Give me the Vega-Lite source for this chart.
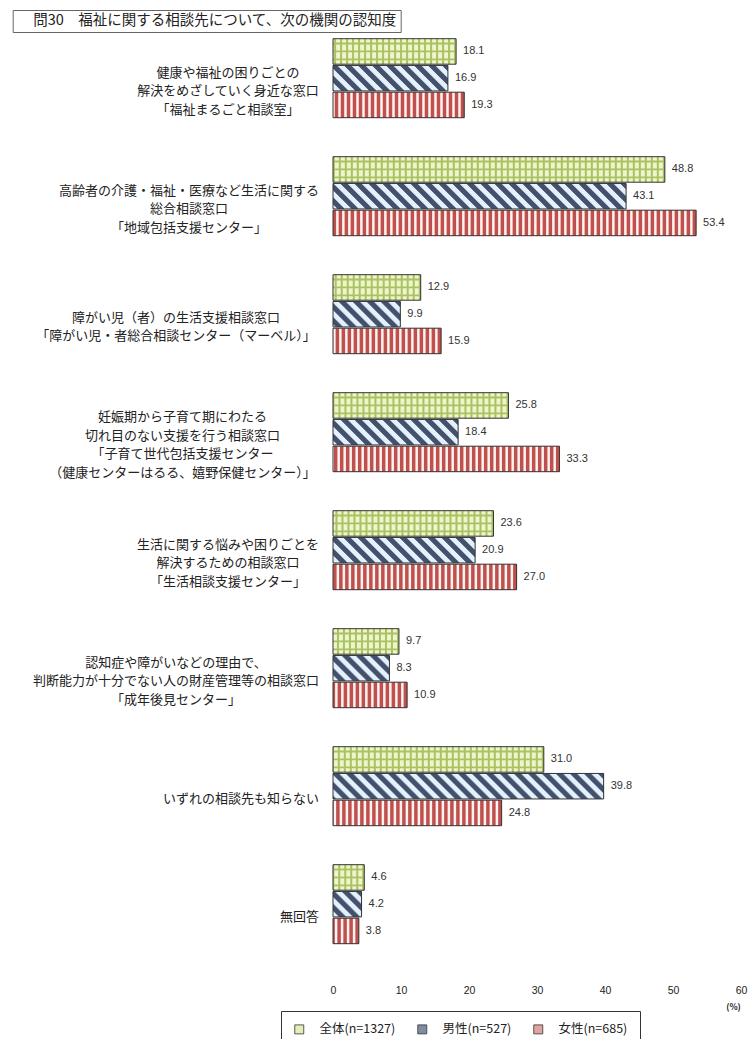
{
  "$schema": "https://vega.github.io/schema/vega-lite/v6.json",
  "width": 408,
  "height": 944,
  "autosize": {"type": "none"},
  "padding": {"left": 333, "top": 19.2, "right": 7, "bottom": 75.8},
  "background": "white",
  "config": {"view": {"stroke": null}, "font": "Noto Sans CJK JP"},
  "data": {"values": [
    {"c": "健康や福祉の困りごとの\n解決をめざしていく身近な窓口\n「福祉まるごと相談室」", "s": "全体(n=1327)", "v": 18.1},
    {"c": "健康や福祉の困りごとの\n解決をめざしていく身近な窓口\n「福祉まるごと相談室」", "s": "男性(n=527)", "v": 16.9},
    {"c": "健康や福祉の困りごとの\n解決をめざしていく身近な窓口\n「福祉まるごと相談室」", "s": "女性(n=685)", "v": 19.3},
    {"c": "高齢者の介護・福祉・医療など生活に関する\n総合相談窓口\n「地域包括支援センター」", "s": "全体(n=1327)", "v": 48.8},
    {"c": "高齢者の介護・福祉・医療など生活に関する\n総合相談窓口\n「地域包括支援センター」", "s": "男性(n=527)", "v": 43.1},
    {"c": "高齢者の介護・福祉・医療など生活に関する\n総合相談窓口\n「地域包括支援センター」", "s": "女性(n=685)", "v": 53.4},
    {"c": "障がい児（者）の生活支援相談窓口\n「障がい児・者総合相談センター（マーベル）」", "s": "全体(n=1327)", "v": 12.9},
    {"c": "障がい児（者）の生活支援相談窓口\n「障がい児・者総合相談センター（マーベル）」", "s": "男性(n=527)", "v": 9.9},
    {"c": "障がい児（者）の生活支援相談窓口\n「障がい児・者総合相談センター（マーベル）」", "s": "女性(n=685)", "v": 15.9},
    {"c": "妊娠期から子育て期にわたる\n切れ目のない支援を行う相談窓口\n「子育て世代包括支援センター\n（健康センターはるる、嬉野保健センター）」", "s": "全体(n=1327)", "v": 25.8},
    {"c": "妊娠期から子育て期にわたる\n切れ目のない支援を行う相談窓口\n「子育て世代包括支援センター\n（健康センターはるる、嬉野保健センター）」", "s": "男性(n=527)", "v": 18.4},
    {"c": "妊娠期から子育て期にわたる\n切れ目のない支援を行う相談窓口\n「子育て世代包括支援センター\n（健康センターはるる、嬉野保健センター）」", "s": "女性(n=685)", "v": 33.3},
    {"c": "生活に関する悩みや困りごとを\n解決するための相談窓口\n「生活相談支援センター」", "s": "全体(n=1327)", "v": 23.6},
    {"c": "生活に関する悩みや困りごとを\n解決するための相談窓口\n「生活相談支援センター」", "s": "男性(n=527)", "v": 20.9},
    {"c": "生活に関する悩みや困りごとを\n解決するための相談窓口\n「生活相談支援センター」", "s": "女性(n=685)", "v": 27.0},
    {"c": "認知症や障がいなどの理由で、\n判断能力が十分でない人の財産管理等の相談窓口\n「成年後見センター」", "s": "全体(n=1327)", "v": 9.7},
    {"c": "認知症や障がいなどの理由で、\n判断能力が十分でない人の財産管理等の相談窓口\n「成年後見センター」", "s": "男性(n=527)", "v": 8.3},
    {"c": "認知症や障がいなどの理由で、\n判断能力が十分でない人の財産管理等の相談窓口\n「成年後見センター」", "s": "女性(n=685)", "v": 10.9},
    {"c": "いずれの相談先も知らない", "s": "全体(n=1327)", "v": 31.0},
    {"c": "いずれの相談先も知らない", "s": "男性(n=527)", "v": 39.8},
    {"c": "いずれの相談先も知らない", "s": "女性(n=685)", "v": 24.8},
    {"c": "無回答", "s": "全体(n=1327)", "v": 4.6},
    {"c": "無回答", "s": "男性(n=527)", "v": 4.2},
    {"c": "無回答", "s": "女性(n=685)", "v": 3.8}
  ]},
  "encoding": {
    "y": {
      "field": "c", "type": "nominal",
      "scale": {
        "domain": [
          "健康や福祉の困りごとの\n解決をめざしていく身近な窓口\n「福祉まるごと相談室」",
          "高齢者の介護・福祉・医療など生活に関する\n総合相談窓口\n「地域包括支援センター」",
          "障がい児（者）の生活支援相談窓口\n「障がい児・者総合相談センター（マーベル）」",
          "妊娠期から子育て期にわたる\n切れ目のない支援を行う相談窓口\n「子育て世代包括支援センター\n（健康センターはるる、嬉野保健センター）」",
          "生活に関する悩みや困りごとを\n解決するための相談窓口\n「生活相談支援センター」",
          "認知症や障がいなどの理由で、\n判断能力が十分でない人の財産管理等の相談窓口\n「成年後見センター」",
          "いずれの相談先も知らない",
          "無回答"
        ],
        "paddingInner": 0.3305, "paddingOuter": 0.16525
      },
      "axis": {
        "title": null, "domain": false, "ticks": false, "tickSize": 0,
        "labelAlign": "center", "labelBaseline": "middle",
        "labelFont": "Noto Sans CJK JP", "labelFontSize": 13, "labelColor": "#222",
        "labelLineHeight": 18.5, "labelLimit": 500, "labelOverlap": false,
        "labelExpr": "split(datum.value, '\\n')",
        "labelOffset": {"expr": "13 - 9.25*(length(split(datum.value,'\\n'))-1)"},
        "labelPadding": {"expr": "14.5 + 6.5*max(length(split(datum.value+'\\n\\n\\n','\\n')[0]),length(split(datum.value+'\\n\\n\\n','\\n')[1]),length(split(datum.value+'\\n\\n\\n','\\n')[2]),length(split(datum.value+'\\n\\n\\n','\\n')[3]))"}
      }
    }
  },
  "layer": [
    {
      "mark": {"type": "bar"},
      "encoding": {
        "x": {"field": "v", "type": "quantitative", "scale": {"domain": [0, 60]},
          "axis": {"title": "(%)", "domain": false, "ticks": false, "tickSize": 0, "grid": false,
            "values": [0, 10, 20, 30, 40, 50, 60], "labelPadding": 22.5, "labelFlush": false, "labelOverlap": false,
            "labelFont": "Liberation Sans", "labelFontSize": 10.5, "labelColor": "#222",
            "titleX": 400, "titleY": 43.5, "titleAlign": "center", "titleBaseline": "middle",
            "titleFont": "Noto Sans CJK JP", "titleFontSize": 8.5, "titleFontWeight": "bold", "titleColor": "#222"}},
        "yOffset": {"field": "s", "type": "nominal", "scale": {"domain": ["全体(n=1327)", "男性(n=527)", "女性(n=685)"], "paddingInner": 0.0467, "paddingOuter": 0}},
        "fill": {"field": "s", "type": "nominal",
          "scale": {"domain": ["全体(n=1327)", "男性(n=527)", "女性(n=685)"], "range": ["#e3eeb8", "#7f8ca3", "#e2a3a1"]},
          "legend": {"title": null, "orient": "none", "direction": "horizontal", "legendX": -52, "legendY": 991.8,
            "strokeColor": "#333", "padding": 12, "columnPadding": 20,
            "symbolType": "square", "symbolSize": 81, "symbolStrokeColor": "#333", "symbolStrokeWidth": 0.8,
            "labelOffset": 14, "labelFont": "Noto Sans CJK JP", "labelFontSize": 12.5, "labelColor": "#222"
          }
        }
      }
    },
    {"transform": [{"filter": "datum.s==='男性(n=527)'"}], "mark": {"type": "rule", "stroke": "#e4f1fc", "strokeWidth": 25.5}, "encoding": {"x": {"field": "v", "type": "quantitative"}, "x2": {"datum": 0}}},
    {"transform": [{"filter": "datum.s==='女性(n=685)'"}], "mark": {"type": "rule", "stroke": "#fdf3f1", "strokeWidth": 25.5, "yOffset": 26.75}, "encoding": {"x": {"field": "v", "type": "quantitative"}, "x2": {"datum": 0}}},
    {"transform": [{"filter": "datum.s==='全体(n=1327)'"}], "mark": {"type": "rule", "stroke": "#eef5cb", "strokeWidth": 25.5, "yOffset": -26.75}, "encoding": {"x": {"field": "v", "type": "quantitative"}, "x2": {"datum": 0}}},
    {"transform": [{"filter": "datum.s==='全体(n=1327)'"}], "mark": {"type": "rule", "stroke": "#aac263", "strokeWidth": 25.5, "strokeDash": [2, 4], "yOffset": -26.75}, "encoding": {"x": {"field": "v", "type": "quantitative"}, "x2": {"datum": 0}}},
    {"transform": [{"filter": "datum.s==='全体(n=1327)'"}], "mark": {"type": "rule", "stroke": "#aac263", "strokeWidth": 1.8, "yOffset": -34.7}, "encoding": {"x": {"field": "v", "type": "quantitative"}, "x2": {"datum": 0}}},
    {"transform": [{"filter": "datum.s==='全体(n=1327)'"}], "mark": {"type": "rule", "stroke": "#aac263", "strokeWidth": 1.8, "yOffset": -26.75}, "encoding": {"x": {"field": "v", "type": "quantitative"}, "x2": {"datum": 0}}},
    {"transform": [{"filter": "datum.s==='全体(n=1327)'"}], "mark": {"type": "rule", "stroke": "#aac263", "strokeWidth": 1.8, "yOffset": -18.8}, "encoding": {"x": {"field": "v", "type": "quantitative"}, "x2": {"datum": 0}}},
    {"transform": [{"filter": "datum.s==='女性(n=685)'"}], "mark": {"type": "rule", "stroke": "#c0504d", "strokeWidth": 25.5, "strokeDash": [3.5, 2.5], "yOffset": 26.75}, "encoding": {"x": {"field": "v", "type": "quantitative"}, "x2": {"datum": 0}}},
    {"transform": [{"filter": "datum.s==='男性(n=527)'"}], "mark": {"type": "rule", "stroke": "#1f2e4d", "strokeWidth": 1.15, "strokeDash": [7, 7], "strokeDashOffset": 2, "yOffset": -12}, "encoding": {"x": {"field": "v", "type": "quantitative"}, "x2": {"datum": 0}}},
    {"transform": [{"filter": "datum.s==='男性(n=527)'"}], "mark": {"type": "rule", "stroke": "#1f2e4d", "strokeWidth": 1.15, "strokeDash": [7, 7], "strokeDashOffset": 3, "yOffset": -11}, "encoding": {"x": {"field": "v", "type": "quantitative"}, "x2": {"datum": 0}}},
    {"transform": [{"filter": "datum.s==='男性(n=527)'"}], "mark": {"type": "rule", "stroke": "#1f2e4d", "strokeWidth": 1.15, "strokeDash": [7, 7], "strokeDashOffset": 4, "yOffset": -10}, "encoding": {"x": {"field": "v", "type": "quantitative"}, "x2": {"datum": 0}}},
    {"transform": [{"filter": "datum.s==='男性(n=527)'"}], "mark": {"type": "rule", "stroke": "#1f2e4d", "strokeWidth": 1.15, "strokeDash": [7, 7], "strokeDashOffset": 5, "yOffset": -9}, "encoding": {"x": {"field": "v", "type": "quantitative"}, "x2": {"datum": 0}}},
    {"transform": [{"filter": "datum.s==='男性(n=527)'"}], "mark": {"type": "rule", "stroke": "#1f2e4d", "strokeWidth": 1.15, "strokeDash": [7, 7], "strokeDashOffset": 6, "yOffset": -8}, "encoding": {"x": {"field": "v", "type": "quantitative"}, "x2": {"datum": 0}}},
    {"transform": [{"filter": "datum.s==='男性(n=527)'"}], "mark": {"type": "rule", "stroke": "#1f2e4d", "strokeWidth": 1.15, "strokeDash": [7, 7], "strokeDashOffset": 7, "yOffset": -7}, "encoding": {"x": {"field": "v", "type": "quantitative"}, "x2": {"datum": 0}}},
    {"transform": [{"filter": "datum.s==='男性(n=527)'"}], "mark": {"type": "rule", "stroke": "#1f2e4d", "strokeWidth": 1.15, "strokeDash": [7, 7], "strokeDashOffset": 8, "yOffset": -6}, "encoding": {"x": {"field": "v", "type": "quantitative"}, "x2": {"datum": 0}}},
    {"transform": [{"filter": "datum.s==='男性(n=527)'"}], "mark": {"type": "rule", "stroke": "#1f2e4d", "strokeWidth": 1.15, "strokeDash": [7, 7], "strokeDashOffset": 9, "yOffset": -5}, "encoding": {"x": {"field": "v", "type": "quantitative"}, "x2": {"datum": 0}}},
    {"transform": [{"filter": "datum.s==='男性(n=527)'"}], "mark": {"type": "rule", "stroke": "#1f2e4d", "strokeWidth": 1.15, "strokeDash": [7, 7], "strokeDashOffset": 10, "yOffset": -4}, "encoding": {"x": {"field": "v", "type": "quantitative"}, "x2": {"datum": 0}}},
    {"transform": [{"filter": "datum.s==='男性(n=527)'"}], "mark": {"type": "rule", "stroke": "#1f2e4d", "strokeWidth": 1.15, "strokeDash": [7, 7], "strokeDashOffset": 11, "yOffset": -3}, "encoding": {"x": {"field": "v", "type": "quantitative"}, "x2": {"datum": 0}}},
    {"transform": [{"filter": "datum.s==='男性(n=527)'"}], "mark": {"type": "rule", "stroke": "#1f2e4d", "strokeWidth": 1.15, "strokeDash": [7, 7], "strokeDashOffset": 12, "yOffset": -2}, "encoding": {"x": {"field": "v", "type": "quantitative"}, "x2": {"datum": 0}}},
    {"transform": [{"filter": "datum.s==='男性(n=527)'"}], "mark": {"type": "rule", "stroke": "#1f2e4d", "strokeWidth": 1.15, "strokeDash": [7, 7], "strokeDashOffset": 13, "yOffset": -1}, "encoding": {"x": {"field": "v", "type": "quantitative"}, "x2": {"datum": 0}}},
    {"transform": [{"filter": "datum.s==='男性(n=527)'"}], "mark": {"type": "rule", "stroke": "#1f2e4d", "strokeWidth": 1.15, "strokeDash": [7, 7], "strokeDashOffset": 0, "yOffset": 0}, "encoding": {"x": {"field": "v", "type": "quantitative"}, "x2": {"datum": 0}}},
    {"transform": [{"filter": "datum.s==='男性(n=527)'"}], "mark": {"type": "rule", "stroke": "#1f2e4d", "strokeWidth": 1.15, "strokeDash": [7, 7], "strokeDashOffset": 1, "yOffset": 1}, "encoding": {"x": {"field": "v", "type": "quantitative"}, "x2": {"datum": 0}}},
    {"transform": [{"filter": "datum.s==='男性(n=527)'"}], "mark": {"type": "rule", "stroke": "#1f2e4d", "strokeWidth": 1.15, "strokeDash": [7, 7], "strokeDashOffset": 2, "yOffset": 2}, "encoding": {"x": {"field": "v", "type": "quantitative"}, "x2": {"datum": 0}}},
    {"transform": [{"filter": "datum.s==='男性(n=527)'"}], "mark": {"type": "rule", "stroke": "#1f2e4d", "strokeWidth": 1.15, "strokeDash": [7, 7], "strokeDashOffset": 3, "yOffset": 3}, "encoding": {"x": {"field": "v", "type": "quantitative"}, "x2": {"datum": 0}}},
    {"transform": [{"filter": "datum.s==='男性(n=527)'"}], "mark": {"type": "rule", "stroke": "#1f2e4d", "strokeWidth": 1.15, "strokeDash": [7, 7], "strokeDashOffset": 4, "yOffset": 4}, "encoding": {"x": {"field": "v", "type": "quantitative"}, "x2": {"datum": 0}}},
    {"transform": [{"filter": "datum.s==='男性(n=527)'"}], "mark": {"type": "rule", "stroke": "#1f2e4d", "strokeWidth": 1.15, "strokeDash": [7, 7], "strokeDashOffset": 5, "yOffset": 5}, "encoding": {"x": {"field": "v", "type": "quantitative"}, "x2": {"datum": 0}}},
    {"transform": [{"filter": "datum.s==='男性(n=527)'"}], "mark": {"type": "rule", "stroke": "#1f2e4d", "strokeWidth": 1.15, "strokeDash": [7, 7], "strokeDashOffset": 6, "yOffset": 6}, "encoding": {"x": {"field": "v", "type": "quantitative"}, "x2": {"datum": 0}}},
    {"transform": [{"filter": "datum.s==='男性(n=527)'"}], "mark": {"type": "rule", "stroke": "#1f2e4d", "strokeWidth": 1.15, "strokeDash": [7, 7], "strokeDashOffset": 7, "yOffset": 7}, "encoding": {"x": {"field": "v", "type": "quantitative"}, "x2": {"datum": 0}}},
    {"transform": [{"filter": "datum.s==='男性(n=527)'"}], "mark": {"type": "rule", "stroke": "#1f2e4d", "strokeWidth": 1.15, "strokeDash": [7, 7], "strokeDashOffset": 8, "yOffset": 8}, "encoding": {"x": {"field": "v", "type": "quantitative"}, "x2": {"datum": 0}}},
    {"transform": [{"filter": "datum.s==='男性(n=527)'"}], "mark": {"type": "rule", "stroke": "#1f2e4d", "strokeWidth": 1.15, "strokeDash": [7, 7], "strokeDashOffset": 9, "yOffset": 9}, "encoding": {"x": {"field": "v", "type": "quantitative"}, "x2": {"datum": 0}}},
    {"transform": [{"filter": "datum.s==='男性(n=527)'"}], "mark": {"type": "rule", "stroke": "#1f2e4d", "strokeWidth": 1.15, "strokeDash": [7, 7], "strokeDashOffset": 10, "yOffset": 10}, "encoding": {"x": {"field": "v", "type": "quantitative"}, "x2": {"datum": 0}}},
    {"transform": [{"filter": "datum.s==='男性(n=527)'"}], "mark": {"type": "rule", "stroke": "#1f2e4d", "strokeWidth": 1.15, "strokeDash": [7, 7], "strokeDashOffset": 11, "yOffset": 11}, "encoding": {"x": {"field": "v", "type": "quantitative"}, "x2": {"datum": 0}}},
    {"transform": [{"filter": "datum.s==='男性(n=527)'"}], "mark": {"type": "rule", "stroke": "#1f2e4d", "strokeWidth": 1.15, "strokeDash": [7, 7], "strokeDashOffset": 12, "yOffset": 12}, "encoding": {"x": {"field": "v", "type": "quantitative"}, "x2": {"datum": 0}}},
    {
      "mark": {"type": "bar", "fill": "transparent", "stroke": "#333", "strokeWidth": 1},
      "encoding": {
        "x": {"field": "v", "type": "quantitative"},
        "yOffset": {"field": "s", "type": "nominal"}
      }
    },
    {
      "mark": {"type": "text", "align": "left", "baseline": "middle", "dx": 7, "font": "Liberation Sans", "fontSize": 11, "color": "#333"},
      "encoding": {
        "x": {"field": "v", "type": "quantitative"},
        "yOffset": {"field": "s", "type": "nominal"},
        "text": {"field": "v", "type": "quantitative", "format": ".1f"}
      }
    },
    {
      "transform": [{"filter": "datum.c === '無回答' && datum.s === '全体(n=1327)'"}],
      "mark": {"type": "point", "opacity": 0},
      "encoding": {
        "x": {"field": "v", "type": "quantitative"},
        "shape": {"field": "c", "type": "nominal",
          "legend": {"title": null, "orient": "none", "legendX": -320.3, "legendY": -9.2,
            "strokeColor": "#666", "padding": 4, "symbolSize": 0, "symbolOpacity": 0, "symbolStrokeWidth": 0,
            "labelOffset": 2, "labelFont": "Noto Sans CJK JP", "labelFontSize": 14.5, "labelColor": "#222", "labelLimit": 600,
            "labelExpr": "'問30　福祉に関する相談先について、次の機関の認知度'"}}
      }
    }
  ]
}
